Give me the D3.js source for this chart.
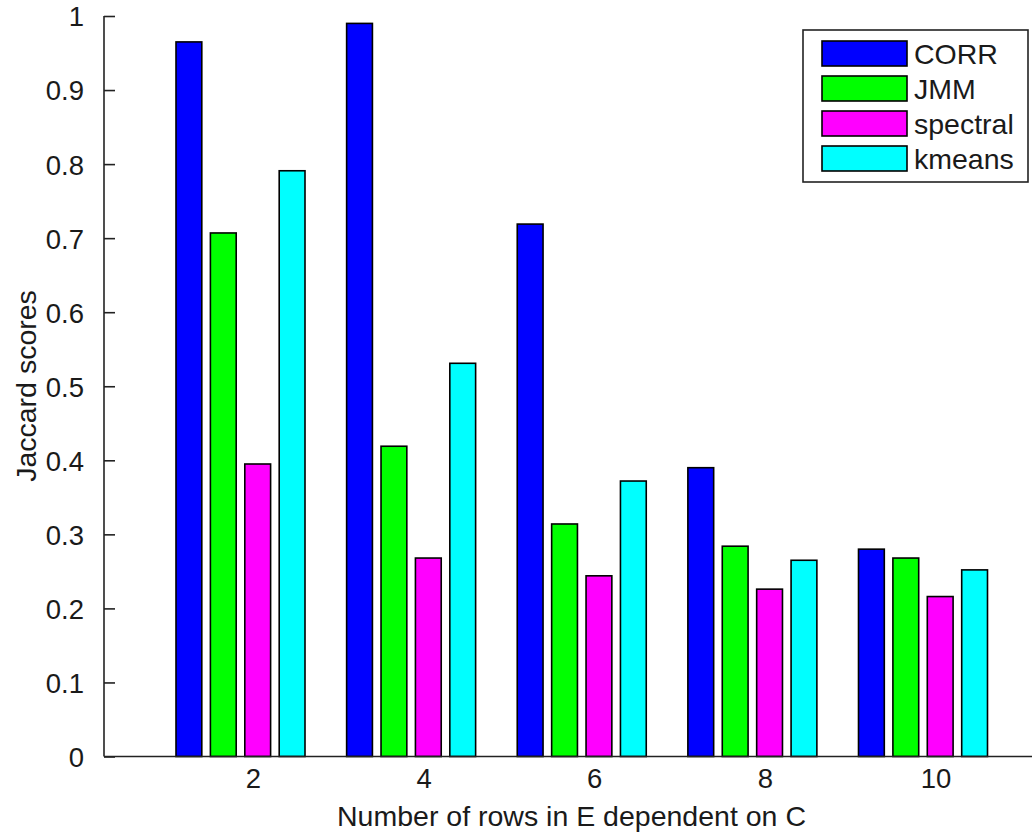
<!DOCTYPE html>
<html>
<head>
<meta charset="utf-8">
<script src="https://cdn.jsdelivr.net/npm/d3@7"></script>
<style>
  html, body { margin: 0; padding: 0; background: #fff; }
  svg { display: block; }
  text { font-family: "Liberation Sans", Arial, Helvetica, sans-serif; fill: #1a1a1a; }
</style>
</head>
<body>
<svg id="chart" width="1032" height="833"></svg>
<script>
// Number of rows in E dependent on C
const categories = [2, 4, 6, 8, 10];
const seriesNames = ["CORR", "JMM", "spectral", "kmeans"];
const seriesColors = ["#0000ff", "#00ff00", "#ff00ff", "#00ffff"];

// Jaccard scores per method, one value per category
const corr     = [0.965, 0.990, 0.719, 0.390, 0.280];
const jmm      = [0.707, 0.419, 0.314, 0.284, 0.268];
const spectral = [0.395, 0.268, 0.244, 0.226, 0.216];
const kmeans   = [0.791, 0.531, 0.372, 0.265, 0.252];
const seriesValues = [corr, jmm, spectral, kmeans];

const yTicks = [0, 0.1, 0.2, 0.3, 0.4, 0.5, 0.6, 0.7, 0.8, 0.9, 1];

const svg = d3.select("#chart");

const plot = { left: 104, right: 1040, top: 16, bottom: 756.5 };

const x = d3.scaleLinear().domain([2, 10]).range([253, 935.5]);
const y = d3.scaleLinear().domain([0, 1]).range([plot.bottom, plot.top]);

// bars within each group sit slightly left of the tick
const groupShift = -12.5;
const inner = d3.scaleBand()
  .domain(d3.range(seriesNames.length))
  .range([-64.5, 64.5])
  .paddingInner(0.25)
  .paddingOuter(0);

const rows = [];
categories.forEach((c, i) => {
  seriesValues.forEach((vals, s) => {
    rows.push({ cat: c, series: s, value: vals[i] });
  });
});

svg.append("g")
  .selectAll("rect")
  .data(rows)
  .join("rect")
  .attr("x", d => x(d.cat) + groupShift + inner(d.series))
  .attr("y", d => y(d.value))
  .attr("width", inner.bandwidth())
  .attr("height", d => y(0) - y(d.value))
  .attr("fill", d => seriesColors[d.series])
  .attr("stroke", "#000")
  .attr("stroke-width", 1.6);

// Left axis: ticks point inward
const yAxis = d3.axisLeft(y)
  .tickValues(yTicks)
  .tickSize(-11)
  .tickPadding(20)
  .tickFormat(d => d === 0 ? "0" : d === 1 ? "1" : d3.format(".1f")(d));

const gy = svg.append("g")
  .attr("transform", `translate(${plot.left},0)`)
  .call(yAxis);
gy.select(".domain").attr("stroke", "#222").attr("stroke-width", 1.6)
  .attr("d", `M0,${plot.bottom}V${plot.top}`);
gy.selectAll(".tick line").attr("stroke", "#222").attr("stroke-width", 1.6);
gy.selectAll(".tick text")
  .attr("font-size", 27.5)
  .attr("dy", "0.36em")
  .style("font-family", "'Liberation Sans', Arial, sans-serif")
  .attr("fill", "#1a1a1a");

// Bottom axis
const xAxis = d3.axisBottom(x)
  .tickValues(categories)
  .tickSize(0)
  .tickPadding(12)
  .tickFormat(d3.format("d"));

const gx = svg.append("g")
  .attr("transform", `translate(0,${plot.bottom})`)
  .call(xAxis);
gx.select(".domain").attr("stroke", "#222").attr("stroke-width", 1.6)
  .attr("d", `M${plot.left},0H${plot.right}`);
gx.selectAll(".tick text")
  .attr("font-size", 27.5)
  .attr("dy", "0.71em")
  .style("font-family", "'Liberation Sans', Arial, sans-serif")
  .attr("fill", "#1a1a1a");

// Axis titles
svg.append("text")
  .attr("x", 571.5)
  .attr("y", 826)
  .attr("text-anchor", "middle")
  .attr("font-size", 28.5)
  .text("Number of rows in E dependent on C");

svg.append("text")
  .attr("transform", "translate(36,386) rotate(-90)")
  .attr("text-anchor", "middle")
  .attr("font-size", 28.5)
  .text("Jaccard scores");

// Legend
const legend = svg.append("g");
legend.append("rect")
  .attr("x", 803).attr("y", 30)
  .attr("width", 225).attr("height", 152)
  .attr("fill", "#fff")
  .attr("stroke", "#222")
  .attr("stroke-width", 1.6);

const items = legend.selectAll("g.item")
  .data(seriesNames)
  .join("g")
  .attr("class", "item")
  .attr("transform", (d, i) => `translate(0,${53.5 + i * 35})`);

items.append("rect")
  .attr("x", 822).attr("y", -12.5)
  .attr("width", 85).attr("height", 25)
  .attr("fill", (d, i) => seriesColors[i])
  .attr("stroke", "#000")
  .attr("stroke-width", 1.6);

items.append("text")
  .attr("x", 914)
  .attr("dy", "0.36em")
  .attr("font-size", 28.5)
  .text(d => d);
</script>
</body>
</html>
